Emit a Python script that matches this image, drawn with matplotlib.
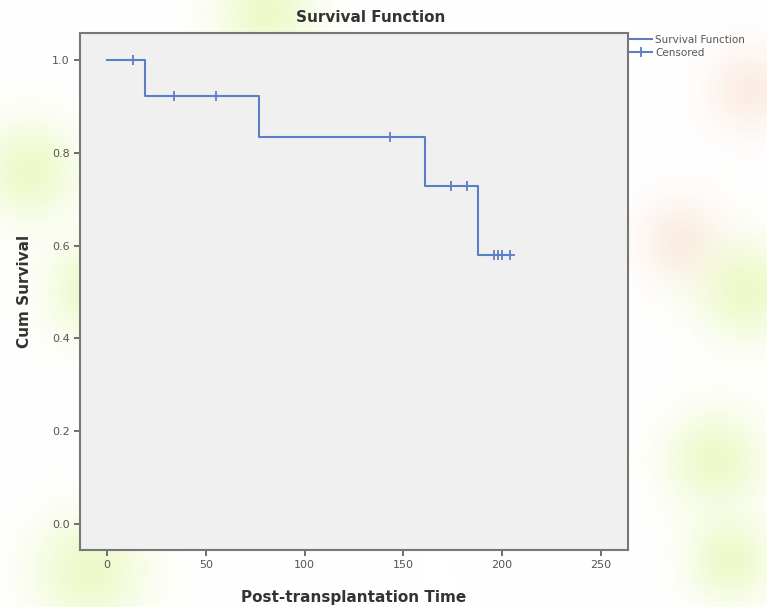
import matplotlib.pyplot as plt
from matplotlib.lines import Line2D
import numpy as np

# step function (time, cumulative survival)
step_times = [0, 19, 77, 161, 188, 204]
step_surv = [1.0, 0.923, 0.834, 0.728, 0.580, 0.580]

# censored cases
cens_times = [13, 34, 55, 143, 174, 182, 196, 198, 200, 204]
cens_surv = [1.0, 0.923, 0.923, 0.834, 0.728, 0.728, 0.580, 0.580, 0.580, 0.580]

xticks = [0, 50, 100, 150, 200, 250]
yticks = [0.0, 0.2, 0.4, 0.6, 0.8, 1.0]

line_col = '#5b7fc4'

fig = plt.figure(figsize=(7.67, 6.07), dpi=100)

# soft blurred background blobs
bg = fig.add_axes([0, 0, 1, 1], zorder=-10)
yy, xx = np.mgrid[0:607, 0:767]
img = np.ones((607, 767, 3))
green = (0.90, 0.97, 0.70)
peach = (0.98, 0.90, 0.85)
blobs = [(265, 10, 35, green), (30, 170, 35, green), (95, 290, 35, green),
         (90, 570, 40, green), (750, 90, 30, peach), (680, 240, 30, peach),
         (745, 290, 35, green), (715, 460, 35, green), (730, 560, 30, green)]
for cx, cy, r, c in blobs:
    w = 0.7 * np.exp(-((xx - cx) ** 2 + (yy - cy) ** 2) / (2 * r ** 2))[..., None]
    img = img * (1 - w) + np.array(c) * w
bg.imshow(img, aspect='auto')
bg.axis('off')

ax = fig.add_axes([80 / 767, 1 - 550 / 607, 548 / 767, 517 / 607])
ax.set_facecolor('#f0f0f0')

ax.step(step_times, step_surv, where='post', color=line_col, lw=1.5)
ax.plot(cens_times, cens_surv, '+', color=line_col, ms=7, mew=1.3)

ax.set_xlim(-13.7, 263.7)
ax.set_ylim(-0.056, 1.058)
ax.set_xticks(xticks)
ax.set_yticks(yticks)
ax.set_xticklabels([str(t) for t in xticks])
ax.set_yticklabels(['%.1f' % t for t in yticks])
ax.tick_params(colors='#555555', labelsize=8, length=4, width=1.2)
for s in ax.spines.values():
    s.set_color('#777777')
    s.set_linewidth(1.5)

ax.set_title('Survival Function', fontsize=11, fontweight='bold',
             color='#333333', pad=8, x=0.53)
ax.set_xlabel('Post-transplantation Time', fontsize=11, fontweight='bold',
              color='#333333', labelpad=14)
ax.set_ylabel('Cum Survival', fontsize=11, fontweight='bold',
              color='#333333', labelpad=14)

handles = [Line2D([], [], color=line_col, lw=1.5),
           Line2D([], [], color=line_col, lw=1.5, marker='+', ms=7, mew=1.3)]
leg = ax.legend(handles, ['Survival Function', 'Censored'], loc='upper left',
                bbox_to_anchor=(0.995, 1.005), frameon=False,
                fontsize=7.5, handlelength=2.2, handletextpad=0.3,
                labelspacing=0.3, borderaxespad=0)
for t in leg.get_texts():
    t.set_color('#555555')

fig.savefig('out.png', dpi=100)
